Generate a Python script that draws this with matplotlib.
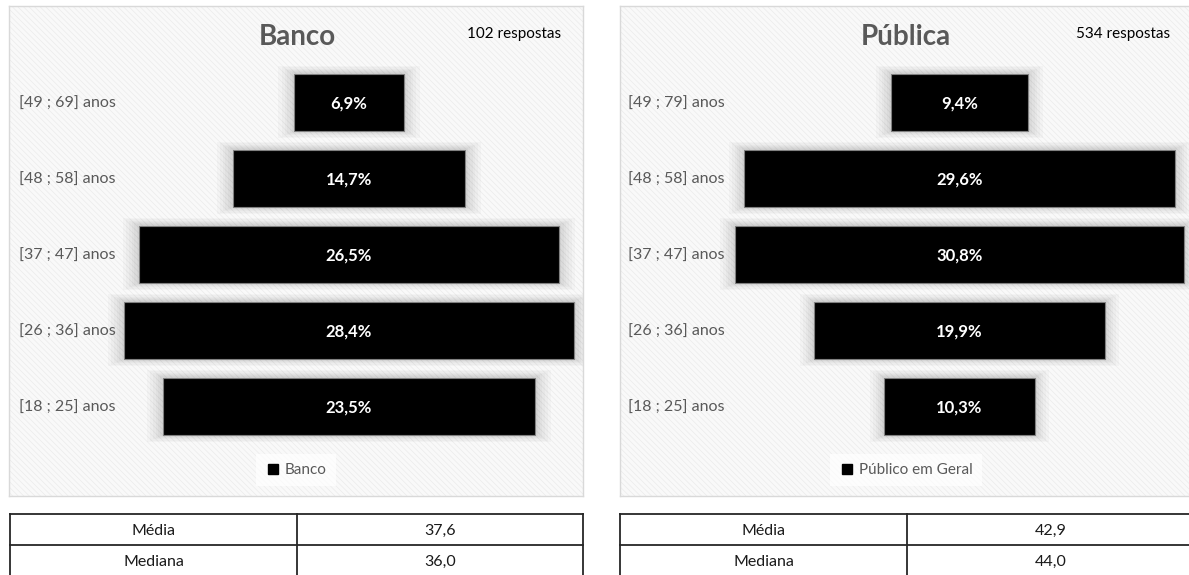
import matplotlib.pyplot as plt
from matplotlib.patches import Rectangle
from matplotlib.lines import Line2D

plt.rcParams['font.family'] = ['Lato', 'DejaVu Sans']
plt.rcParams['hatch.linewidth'] = 0.5

# age groups, bottom to top
banco_faixas = ['[18 ; 25] anos', '[26 ; 36] anos', '[37 ; 47] anos', '[48 ; 58] anos', '[49 ; 69] anos']
banco_pct = [23.5, 28.4, 26.5, 14.7, 6.9]
publica_faixas = ['[18 ; 25] anos', '[26 ; 36] anos', '[37 ; 47] anos', '[48 ; 58] anos', '[49 ; 79] anos']
publica_pct = [10.3, 19.9, 30.8, 29.6, 9.4]

stat_nomes = ['Média', 'Mediana']
banco_stats = ['37,6', '36,0']
publica_stats = ['42,9', '44,0']

W, H = 1189, 575
fig = plt.figure(figsize=(W / 100, H / 100), dpi=100)
fig.patch.set_facecolor('white')

GRAY = '#595959'


def px_axes(x0, y0, x1, y1):
    # pixel box (top-left origin) -> figure axes
    return fig.add_axes([x0 / W, 1 - y1 / H, (x1 - x0) / W, (y1 - y0) / H])


def funnel(box, center_px, px_per, faixas, pct, titulo, n_resp, legenda,
           label_x, title_x, resp_x, leg_x):
    x0, y0, x1, y1 = box
    ax = px_axes(x0, y0, x1, y1)
    ax.set_xlim((x0 - center_px) / px_per, (x1 - center_px) / px_per)
    # rows at 102..406 px, 76 px apart
    ax.set_ylim(-(y1 - 406) / 76, 4 + (102 - y0) / 76)
    ax.set_xticks([])
    ax.set_yticks([])
    for s in ax.spines.values():
        s.set_color('#d9d9d9')
        s.set_linewidth(1)
    ax.set_facecolor('#f9f9f9')
    ax.add_patch(Rectangle((0, 0), 1, 1, transform=ax.transAxes, facecolor='none',
                           edgecolor='#ebebeb', hatch='\\\\\\\\\\\\', linewidth=0, zorder=0))

    ys = list(range(len(pct)))
    # soft glow around the bars
    for k in [2.0, 1.6, 1.2, 0.9, 0.6, 0.3]:
        ax.barh(ys, [v + k for v in pct], left=[-(v + k) / 2 for v in pct],
                height=0.75 + k * 0.1, color='black', alpha=0.025, linewidth=0, zorder=1)
    ax.barh(ys, pct, left=[-v / 2 for v in pct], height=0.75, color='black',
            edgecolor='#808080', linewidth=0.8, zorder=2)
    for y, v in zip(ys, pct):
        ax.text(0, y, f'{v:.1f}%'.replace('.', ','), color='white', fontsize=12,
                fontweight='bold', ha='center', va='center_baseline', zorder=3)

    trans = ax.get_yaxis_transform()
    for y, f in zip(ys, faixas):
        ax.text((label_x - x0) / (x1 - x0), y, f, transform=trans, fontsize=11.5,
                color=GRAY, ha='left', va='center_baseline')

    fig.text(title_x / W, 1 - 37 / H, titulo, fontsize=20, fontweight='bold',
             color=GRAY, ha='center', va='center')
    fig.text(resp_x / W, 1 - 34 / H, n_resp, fontsize=11, color='black',
             ha='center', va='center')

    handle = Line2D([], [], marker='s', color='black', linestyle='none', markersize=7)
    leg = fig.legend([handle], [legenda], loc='center', bbox_to_anchor=(leg_x / W, 1 - 470 / H),
                     frameon=True, fontsize=11, handletextpad=0.3, borderpad=0.6,
                     fancybox=False, handlelength=1.0)
    leg.get_frame().set_facecolor('white')
    leg.get_frame().set_alpha(0.7)
    leg.get_frame().set_linewidth(0)
    for t in leg.get_texts():
        t.set_color(GRAY)
    return ax


def tabela(x0, xm, x1, y0, row_h, nomes, valores):
    ax = px_axes(0, 0, W, H)
    ax.set_xlim(0, W)
    ax.set_ylim(H, 0)
    ax.axis('off')
    ax.patch.set_alpha(0)
    n = len(nomes)
    ys = [y0 + i * row_h for i in range(n + 1)]
    for y in ys:
        ax.plot([x0, x1], [y, y], color='#262626', linewidth=1.3)
    for x in (x0, xm, x1):
        ax.plot([x, x], [ys[0], ys[-1]], color='#262626', linewidth=1.3)
    for i, (a, b) in enumerate(zip(nomes, valores)):
        yc = y0 + (i + 0.5) * row_h
        ax.text((x0 + xm) / 2, yc, a, fontsize=11.5, ha='center', va='center_baseline', color='#1a1a1a')
        ax.text((xm + x1) / 2, yc, b, fontsize=11.5, ha='center', va='center_baseline', color='#1a1a1a')


funnel((9, 6, 583, 496), 349, 15.85, banco_faixas, banco_pct, 'Banco', '102 respostas',
       'Banco', 19, 297, 514, 296)
funnel((620, 6, 1198, 496), 959.5, 14.58, publica_faixas, publica_pct, 'Pública', '534 respostas',
       'Público em Geral', 628, 906, 1123, 906)

tabela(10, 297, 583, 514, 31, stat_nomes, banco_stats)
tabela(620, 907, 1195, 514, 31, stat_nomes, publica_stats)

fig.savefig('out.png', dpi=100)
